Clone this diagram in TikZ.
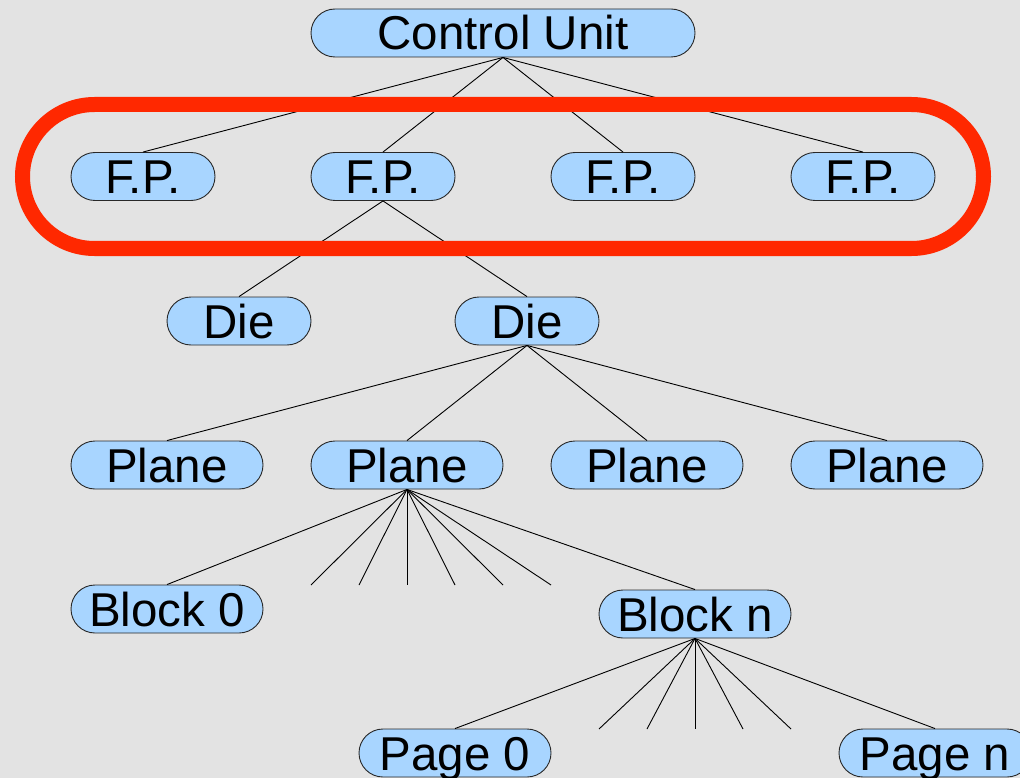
\documentclass[tikz,border=0pt]{standalone}
\usepackage{fontspec}
\setmainfont{Liberation Sans}
\definecolor{bg}{RGB}{227,227,227}
\definecolor{nodefill}{RGB}{168,213,255}
\definecolor{nodeline}{RGB}{40,40,40}
\definecolor{hl}{RGB}{255,40,0}
\begin{document}
\begin{tikzpicture}[x=1pt,y=-1pt,
  box/.style={draw=nodeline, line width=0.9pt, fill=nodefill, rounded corners=24pt,
    minimum height=48pt, inner sep=0pt, text height=34pt, text depth=0pt,
    font=\fontsize{47.5pt}{47.5pt}\selectfont},
  w144/.style={minimum width=144pt},
  w192/.style={minimum width=192pt},
  w384/.style={minimum width=384pt},
  link/.style={draw=black, line width=0.9pt},
  ring/.style={draw=hl, line width=15pt}]
\fill[bg] (0,0) rectangle (1020,778);
\useasboundingbox (0,0) rectangle (1020,778);
\clip (0,0) rectangle (1020,778);
% nodes
\node[box,w384] (cu) at (503,33) {Control Unit};
\node[box,w144] (fp1) at (143,176.5) {F.P.};
\node[box,w144] (fp2) at (383,176.5) {F.P.};
\node[box,w144] (fp3) at (623,176.5) {F.P.};
\node[box,w144] (fp4) at (863,176.5) {F.P.};
\node[box,w144] (die1) at (239,321) {Die};
\node[box,w144] (die2) at (527,321) {Die};
\node[box,w192] (pl1) at (167,465) {Plane};
\node[box,w192] (pl2) at (407,465) {Plane};
\node[box,w192] (pl3) at (647,465) {Plane};
\node[box,w192] (pl4) at (887,465) {Plane};
\node[box,w192] (b0) at (167,609) {Block 0};
\node[box,w192] (bn) at (695,614) {Block n};
\node[box,w192] (p0) at (455,753) {Page 0};
\node[box,w192] (pn) at (935,753) {Page n};
% free ends
\foreach \i/\x in {1/311,2/359,3/407,4/455,5/503,6/551}
  \coordinate (bt\i) at (\x,585);
\foreach \i/\x in {1/599,2/647,3/695,4/743,5/791}
  \coordinate (pt\i) at (\x,729);
% connectors
\foreach \n in {fp1,fp2,fp3,fp4} \draw[link] (cu.south) -- (\n.north);
\foreach \n in {die1,die2} \draw[link] (fp2.south) -- (\n.north);
\foreach \n in {pl1,pl2,pl3,pl4} \draw[link] (die2.south) -- (\n.north);
\foreach \n in {b0,bn,bt1,bt2,bt3,bt4,bt5,bt6} \draw[link] (pl2.south) -- (\n.north);
\foreach \n in {p0,pn,pt1,pt2,pt3,pt4,pt5} \draw[link] (bn.south) -- (\n.north);
% highlight ring
\draw[ring] (94.5,104.5) -- (911.5,104.5)
  arc[start angle=90, end angle=-90, radius=72pt]
  -- (94.5,248.5)
  arc[start angle=270, end angle=90, radius=72pt] -- cycle;
\end{tikzpicture}
\end{document}
